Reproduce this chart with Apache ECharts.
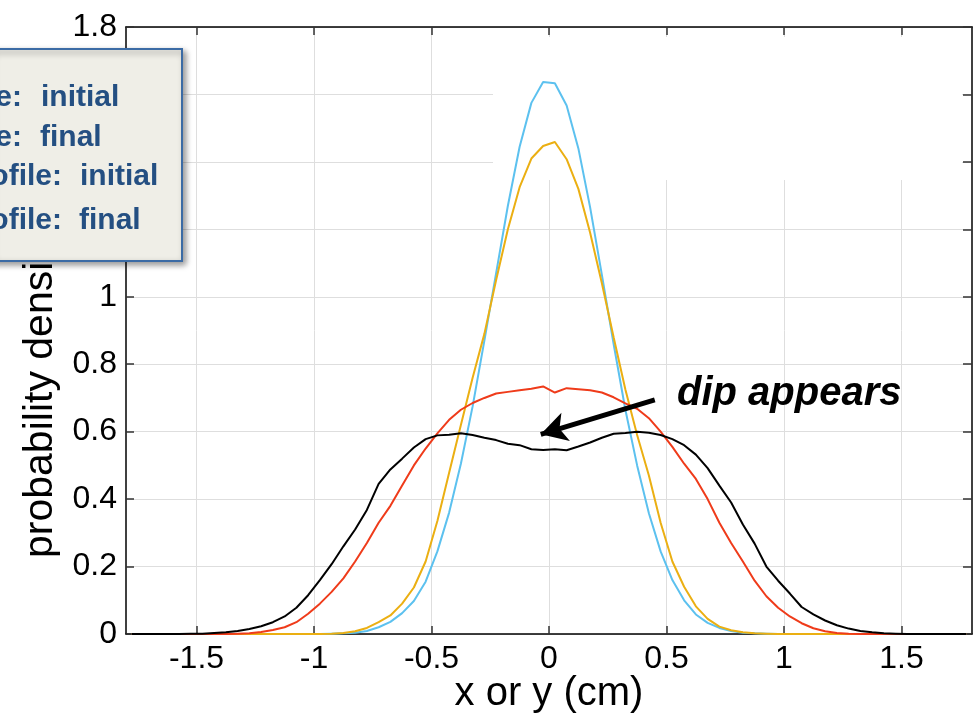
<!DOCTYPE html>
<html>
<head>
<meta charset="utf-8">
<script src="https://cdn.jsdelivr.net/npm/echarts@6/dist/echarts.min.js"></script>
<style>
  html, body { margin: 0; padding: 0; background: #fff; }
  #chart { width: 978px; height: 714px; }
</style>
</head>
<body>
<div id="chart"></div>
<script>
// bin centres (cm)
const xs = [
  -1.775, -1.725, -1.675, -1.625, -1.575, -1.525, -1.475, -1.425, -1.375, -1.325, -1.275, -1.225,
  -1.175, -1.125, -1.075, -1.025, -0.975, -0.925, -0.875, -0.825, -0.775, -0.725, -0.675, -0.625,
  -0.575, -0.525, -0.475, -0.425, -0.375, -0.325, -0.275, -0.225, -0.175, -0.125, -0.075, -0.025,
  0.025, 0.075, 0.125, 0.175, 0.225, 0.275, 0.325, 0.375, 0.425, 0.475, 0.525, 0.575,
  0.625, 0.675, 0.725, 0.775, 0.825, 0.875, 0.925, 0.975, 1.025, 1.075, 1.125, 1.175,
  1.225, 1.275, 1.325, 1.375, 1.425, 1.475, 1.525, 1.575, 1.625, 1.675, 1.725, 1.775
];

// light blue: initial (narrow)
const blueY = [
  0, 0, 0, 0, 0, 0, 0, 0, 0, 0, 0, 0, 0, 0, 0, 0,
  0, 0.001, 0.002, 0.004, 0.009, 0.02, 0.036, 0.062, 0.098, 0.155, 0.245, 0.36, 0.505, 0.675, 0.87, 1.07, 1.27, 1.445, 1.575, 1.637,
  1.633, 1.567, 1.44, 1.265, 1.065, 0.86, 0.665, 0.5, 0.358, 0.245, 0.16, 0.1, 0.058, 0.033, 0.018, 0.009, 0.004, 0.002, 0.001, 0,
  0, 0, 0, 0, 0, 0, 0, 0, 0, 0, 0, 0, 0, 0, 0, 0
];

// orange: final (narrow)
const orangeY = [
  0, 0, 0, 0, 0, 0, 0, 0, 0, 0, 0, 0, 0, 0, 0, 0,
  0, 0.001, 0.003, 0.008, 0.018, 0.035, 0.055, 0.09, 0.138, 0.215, 0.335, 0.478, 0.62, 0.76, 0.89, 1.05, 1.2, 1.325, 1.41, 1.447,
  1.459, 1.408, 1.32, 1.19, 1.04, 0.88, 0.725, 0.59, 0.47, 0.33, 0.215, 0.14, 0.082, 0.045, 0.022, 0.011, 0.005, 0.002, 0.001, 0,
  0, 0, 0, 0, 0, 0, 0, 0, 0, 0, 0, 0, 0, 0, 0, 0
];

// red: initial (wide)
const redY = [
  0, 0, 0, 0, 0, 0, 0, 0, 0,
  0.001, 0.002, 0.006, 0.012, 0.02, 0.035, 0.06, 0.09, 0.125, 0.165, 0.215, 0.27, 0.33, 0.38, 0.44, 0.5, 0.55,
  0.595, 0.635, 0.665, 0.685, 0.7, 0.713, 0.718, 0.723, 0.727, 0.734,
  0.716, 0.729, 0.726, 0.723, 0.716, 0.702, 0.684, 0.668, 0.64, 0.6, 0.555, 0.505, 0.46, 0.4, 0.33, 0.27,
  0.215, 0.158, 0.112, 0.078, 0.052, 0.032, 0.017, 0.008, 0.003, 0.001,
  0, 0, 0, 0, 0, 0, 0, 0, 0, 0
];

// black: final (wide), with the dip
const blackY = [
  0, 0, 0, 0, 0, 0.001, 0.001, 0.003, 0.005, 0.009, 0.015, 0.023, 0.035, 0.052, 0.078, 0.115,
  0.16, 0.207, 0.26, 0.31, 0.368, 0.445, 0.488, 0.52, 0.553, 0.578, 0.589, 0.591, 0.595, 0.59, 0.582, 0.575, 0.564, 0.56, 0.548, 0.546,
  0.548, 0.545, 0.556, 0.568, 0.582, 0.594, 0.596, 0.6, 0.597, 0.59, 0.578, 0.56, 0.532, 0.492, 0.44, 0.39,
  0.325, 0.268, 0.2, 0.158, 0.12, 0.08, 0.058, 0.04, 0.026, 0.016, 0.009, 0.005, 0.002, 0.001,
  0, 0, 0, 0, 0, 0
];

const xTicks = [-1.5, -1, -0.5, 0, 0.5, 1, 1.5];

const font = 'Liberation Sans, Arial, Helvetica, sans-serif';
const legendFont = 'bold 30px ' + font;
const legendColor = '#244f82';

let chartDom = document.getElementById('chart');
let myChart = echarts.init(chartDom);

function pairs(ys) {
  return xs.map((x, i) => [x, ys[i]]);
}

function lineSeries(name, ys, color) {
  return {
    name: name,
    type: 'line',
    data: pairs(ys),
    showSymbol: false,
    symbol: 'none',
    lineStyle: { color: color, width: 2 },
    itemStyle: { color: color },
    animation: false,
    z: 3
  };
}

// y is the bottom of the text box (about 7px under the baseline)
function legendText(x, y, text, align) {
  return {
    type: 'text', z: 31, x: x, y: y,
    style: { text: text, font: legendFont, fill: legendColor, textAlign: align, textVerticalAlign: 'bottom' }
  };
}

let blackSeries = lineSeries('black', blackY, '#000000');
// arrow pointing at the dip
blackSeries.markLine = {
  silent: true,
  symbol: ['none', 'arrow'],
  symbolSize: [22, 26],
  label: { show: false },
  lineStyle: { color: '#000', width: 5, type: 'solid' },
  animation: false,
  data: [[{ coord: [0.45, 0.694] }, { coord: [-0.035, 0.592] }]]
};

let option = {
  animation: false,
  grid: { left: 126, right: 6, top: 27, bottom: 80, containLabel: false, outerBoundsMode: 'none' },
  xAxis: [
    {
      type: 'value',
      min: -1.8,
      max: 1.8,
      position: 'bottom',
      name: 'x or y (cm)',
      nameLocation: 'middle',
      nameGap: 40,
      nameMoveOverlap: false,
      nameTextStyle: { fontFamily: font, fontSize: 40, color: '#000', lineHeight: 40 },
      axisLine: { show: true, onZero: false, lineStyle: { color: '#000', width: 1.5 } },
      axisTick: { show: true, inside: true, length: 8, customValues: xTicks, lineStyle: { color: '#333', width: 1.5 } },
      axisLabel: { customValues: xTicks, fontFamily: font, fontSize: 32, color: '#000', margin: 9 },
      splitLine: { show: true, lineStyle: { color: '#dedede', width: 1 } }
    },
    {
      type: 'value',
      min: -1.8,
      max: 1.8,
      position: 'top',
      axisLine: { show: true, onZero: false, lineStyle: { color: '#000', width: 1.5 } },
      axisTick: { show: true, inside: true, length: 8, customValues: xTicks, lineStyle: { color: '#333', width: 1.5 } },
      axisLabel: { show: false, customValues: xTicks },
      splitLine: { show: false }
    }
  ],
  yAxis: [
    {
      type: 'value',
      min: 0,
      max: 1.8,
      interval: 0.2,
      position: 'left',
      axisLine: { show: true, onZero: false, lineStyle: { color: '#000', width: 1.5 } },
      axisTick: { show: true, inside: true, length: 8, lineStyle: { color: '#333', width: 1.5 } },
      axisLabel: { fontFamily: font, fontSize: 32, color: '#000', margin: 9 },
      splitLine: { show: true, lineStyle: { color: '#dedede', width: 1 } }
    },
    {
      type: 'value',
      min: 0,
      max: 1.8,
      interval: 0.2,
      position: 'right',
      axisLine: { show: true, onZero: false, lineStyle: { color: '#000', width: 1.5 } },
      axisTick: { show: true, inside: true, length: 9, lineStyle: { color: '#333', width: 1.5 } },
      axisLabel: { show: false },
      splitLine: { show: false }
    }
  ],
  graphic: [
    // white patch hiding the grid in the upper right
    {
      type: 'rect',
      z: 1,
      silent: true,
      shape: { x: 493, y: 37, width: 469, height: 143 },
      style: { fill: '#ffffff' }
    },
    // y axis title
    {
      type: 'text',
      z: 1,
      x: 61,
      y: 558,
      rotation: Math.PI / 2,
      style: {
        text: 'probability density',
        font: '41px ' + font,
        fill: '#000',
        textAlign: 'left',
        textVerticalAlign: 'bottom'
      }
    },
    // annotation
    {
      type: 'text',
      z: 20,
      x: 677,
      y: 414,
      style: {
        text: 'dip appears',
        font: 'italic bold 40px ' + font,
        fill: '#000',
        textAlign: 'left',
        textVerticalAlign: 'bottom'
      }
    },
    // legend box (cut at left edge)
    {
      type: 'group',
      z: 30,
      children: [
        {
          type: 'rect',
          z: 30,
          shape: { x: -10, y: 49, width: 192, height: 212 },
          style: {
            fill: '#efeee7',
            stroke: '#3b6ba5',
            lineWidth: 2,
            shadowBlur: 6,
            shadowOffsetX: 3,
            shadowOffsetY: 3,
            shadowColor: 'rgba(0,0,0,0.4)'
          }
        },
        legendText(22, 113, 'e:', 'right'),
        legendText(41, 113, 'initial', 'left'),
        legendText(22, 153, 'e:', 'right'),
        legendText(40, 153, 'final', 'left'),
        legendText(62, 192, 'ofile:', 'right'),
        legendText(80, 192, 'initial', 'left'),
        legendText(62, 236, 'ofile:', 'right'),
        legendText(79, 236, 'final', 'left')
      ]
    }
  ],
  series: [
    lineSeries('blue', blueY, '#5cc1ef'),
    lineSeries('orange', orangeY, '#ebaf12'),
    lineSeries('red', redY, '#ef3b1a'),
    blackSeries
  ]
};

option && myChart.setOption(option);
</script>
</body>
</html>
